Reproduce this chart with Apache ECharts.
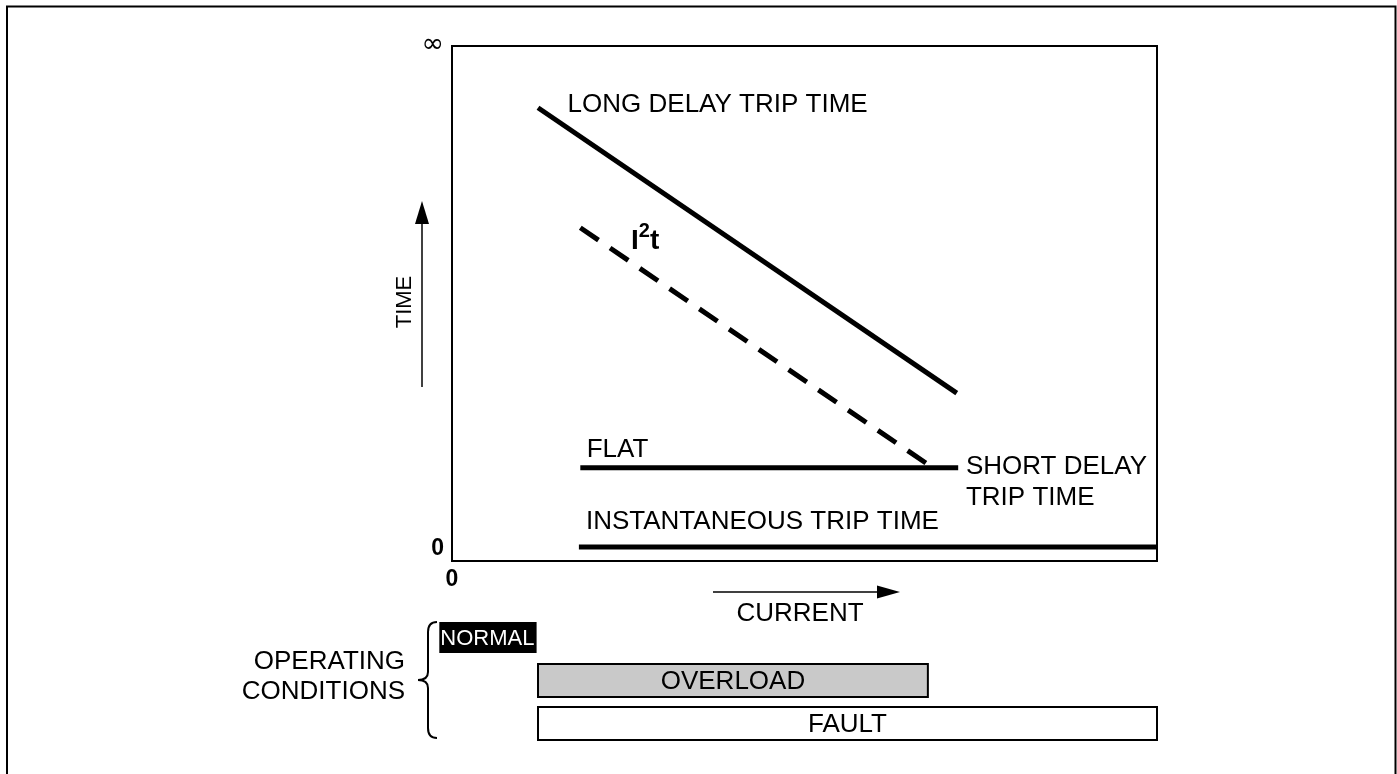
<!DOCTYPE html>
<html>
<head>
<meta charset="utf-8">
<title>Trip time vs current</title>
<script src="https://cdn.jsdelivr.net/npm/echarts@6/dist/echarts.min.js"></script>
<style>
  html, body { margin: 0; padding: 0; background: #fff; }
  #chart { width: 1397px; height: 774px; }
</style>
</head>
<body>
<div id="chart"></div>
<script>
// Trip curves in relative units (current 0–100, time 0–100 where 100 = ∞)
const longDelay = [[12.2, 88.0], [71.6, 32.6]];
const i2t = [[18.2, 64.7], [68.2, 18.1]];
const flat = [[18.2, 18.1], [71.8, 18.1]];
const instantaneous = [[18.0, 2.7], [100, 2.7]];

// Curve captions: text, anchor current, anchor time
const captionText = ['LONG DELAY TRIP TIME', 'FLAT', 'SHORT DELAY\nTRIP TIME', 'INSTANTANEOUS TRIP TIME'];
const captionX = [16.4, 19.1, 72.9, 19.0];
const captionY = [88.5, 21.5, 15.2, 7.6];
const i2tLabelAt = [25.4, 62.6];

// Operating conditions as current ranges
const conditions = ['NORMAL', 'OVERLOAD', 'FAULT'];
const conditionStart = [-1.8, 12.2, 12.2];
const conditionEnd = [12.0, 67.5, 100];

// Axis tick labels
const timeTicks = { 0: '0', 100: '∞' };
const currentTicks = { 0: '0', 100: '' };

const FONT = '"Liberation Sans", Arial, Helvetica, sans-serif';
const chart = echarts.init(document.getElementById('chart'), null, { renderer: 'canvas' });

const lineSeries = (data, dashed) => ({
  type: 'line',
  data: data,
  xAxisIndex: 0, yAxisIndex: 0,
  symbol: 'none',
  silent: true,
  animation: false,
  lineStyle: { color: '#000', width: 5, type: dashed ? [22, 14] : 'solid', cap: 'butt' }
});

const condStyle = {
  NORMAL:   { fill: '#000', stroke: '#000', text: '#fff', align: 'left', size: 22 },
  OVERLOAD: { fill: '#c9c9c9', stroke: '#000', text: '#000', align: 'center', size: 26 },
  FAULT:    { fill: '#fff', stroke: '#000', text: '#000', align: 'center', size: 26 }
};

const stroke = { fill: 'none', stroke: '#000', lineWidth: 2 };
const bez = (x1, y1, cpx1, cpy1, cpx2, cpy2, x2, y2) => ({
  type: 'bezierCurve', silent: true,
  shape: { x1, y1, cpx1, cpy1, cpx2, cpy2, x2, y2 }, style: stroke
});
const seg = (x1, y1, x2, y2) => ({ type: 'line', silent: true, shape: { x1, y1, x2, y2 }, style: stroke });

const option = {
  animation: false,
  backgroundColor: '#fff',
  grid: [
    { left: 452, right: 240, top: 46, bottom: 213, show: true, borderColor: '#000', borderWidth: 2, backgroundColor: 'transparent' },
    { left: 452, right: 240, top: 616, height: 129 }
  ],
  xAxis: [
    {
      type: 'value', gridIndex: 0, min: 0, max: 100, interval: 100,
      axisLine: { show: false }, axisTick: { show: false }, splitLine: { show: false },
      axisLabel: {
        margin: 7,
        formatter: v => currentTicks[v] || '',
        color: '#000', fontFamily: FONT, fontSize: 23, fontWeight: 'bold'
      }
    },
    { type: 'value', gridIndex: 1, min: 0, max: 100, show: false }
  ],
  yAxis: [
    {
      type: 'value', gridIndex: 0, min: 0, max: 100, interval: 100,
      axisLine: { show: false }, axisTick: { show: false }, splitLine: { show: false },
      axisLabel: {
        margin: 8,
        formatter: v => v === 0 ? '{z|' + timeTicks[v] + '}' : '{inf|' + timeTicks[v] + '}',
        rich: {
          z: { color: '#000', fontFamily: FONT, fontSize: 23, fontWeight: 'bold', padding: [0, 0, 24, 0] },
          inf: { color: '#000', fontFamily: 'DejaVu Sans', fontSize: 27, padding: [0, 0, 2, 0] }
        }
      }
    },
    { type: 'category', gridIndex: 1, data: conditions, inverse: true, show: false }
  ],
  series: [
    lineSeries(longDelay, false),
    lineSeries(i2t, true),
    lineSeries(flat, false),
    lineSeries(instantaneous, false),
    {
      type: 'scatter',
      xAxisIndex: 0, yAxisIndex: 0,
      symbolSize: 0,
      silent: true,
      itemStyle: { opacity: 1 },
      data: captionText.map((t, i) => ({ value: [captionX[i], captionY[i]], name: t })),
      label: {
        show: true, position: 'right', distance: 0,
        formatter: p => p.name,
        color: '#000', fontFamily: FONT, fontSize: 26, lineHeight: 31, align: 'left', verticalAlign: 'middle'
      }
    },
    {
      type: 'scatter',
      xAxisIndex: 0, yAxisIndex: 0,
      symbolSize: 0,
      silent: true,
      itemStyle: { opacity: 1 },
      data: [{ value: i2tLabelAt }],
      label: {
        show: true, position: 'right', distance: 0,
        formatter: '{b|I}{s|2}{b|t}',
        rich: {
          b: { color: '#000', fontFamily: FONT, fontSize: 28, fontWeight: 'bold', lineHeight: 34, verticalAlign: 'bottom' },
          s: { color: '#000', fontFamily: FONT, fontSize: 20, fontWeight: 'bold', lineHeight: 34, verticalAlign: 'top' }
        }
      }
    },
    {
      type: 'custom',
      xAxisIndex: 1, yAxisIndex: 1,
      clip: false,
      silent: true,
      data: conditions.map((c, i) => [conditionStart[i], conditionEnd[i], i]),
      renderItem: (params, api) => {
        const row = api.value(2);
        const name = conditions[row];
        const st = condStyle[name];
        const a = api.coord([api.value(0), row]);
        const b = api.coord([api.value(1), row]);
        const h = name === 'NORMAL' ? 31 : 33;
        const x0 = a[0], x1 = b[0], yc = a[1];
        return {
          type: 'group',
          children: [
            {
              type: 'rect',
              shape: { x: x0, y: yc - h / 2, width: x1 - x0, height: h },
              style: { fill: st.fill, stroke: st.stroke, lineWidth: name === 'NORMAL' ? 0 : 2 }
            },
            {
              type: 'text',
              style: {
                text: name,
                x: st.align === 'left' ? x0 + 1 : (x0 + x1) / 2,
                y: yc + 1,
                align: st.align, verticalAlign: 'middle',
                fill: st.text, font: st.size + 'px ' + FONT
              }
            }
          ]
        };
      }
    }
  ],
  graphic: [
    // page frame
    { type: 'rect', shape: { x: 7, y: 6.5, width: 1388.5, height: 900 }, style: { fill: 'none', stroke: '#000', lineWidth: 2 }, silent: true },
    // time axis arrow
    { type: 'line', shape: { x1: 422, y1: 387, x2: 422, y2: 215 }, style: { stroke: '#000', lineWidth: 1.5 }, silent: true },
    { type: 'polygon', shape: { points: [[422, 201], [415, 224], [429, 224]] }, style: { fill: '#000' }, silent: true },
    { type: 'text', x: 405, y: 302, rotation: Math.PI / 2, style: { text: 'TIME', align: 'center', verticalAlign: 'middle', fill: '#000', font: '22px ' + FONT }, silent: true },
    // current axis arrow
    { type: 'line', shape: { x1: 713, y1: 592, x2: 885, y2: 592 }, style: { stroke: '#000', lineWidth: 1.5 }, silent: true },
    { type: 'polygon', shape: { points: [[900, 592], [877, 585.5], [877, 598.5]] }, style: { fill: '#000' }, silent: true },
    { type: 'text', x: 800, y: 614, style: { text: 'CURRENT', align: 'center', verticalAlign: 'middle', fill: '#000', font: '26px ' + FONT }, silent: true },
    // operating conditions caption and brace
    { type: 'text', x: 405, y: 677, style: { text: 'OPERATING\nCONDITIONS', align: 'right', verticalAlign: 'middle', lineHeight: 30, fill: '#000', font: '26px ' + FONT }, silent: true },
    bez(437, 622, 431, 622, 428, 625, 428, 632),
    seg(428, 632, 428, 672),
    bez(428, 672, 428, 677, 425, 680, 418, 680),
    bez(418, 680, 425, 680, 428, 683, 428, 688),
    seg(428, 688, 428, 728),
    bez(428, 728, 428, 735, 431, 738, 437, 738)
  ]
};

chart.setOption(option);
</script>
</body>
</html>
